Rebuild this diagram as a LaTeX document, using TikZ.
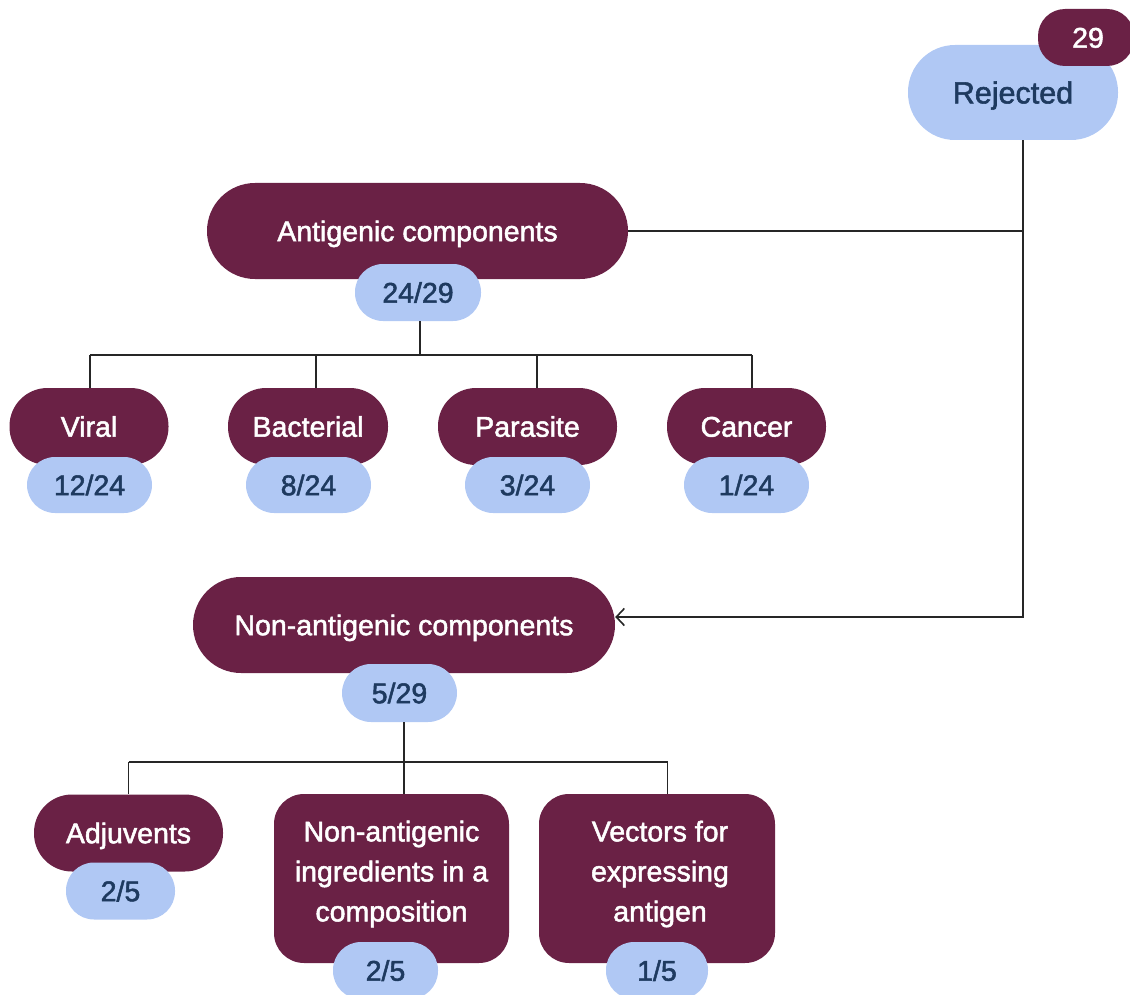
\documentclass[tikz,border=0pt]{standalone}
\usepackage{fontspec}
\setmainfont{Liberation Sans}[FakeBold=1.8]
\usetikzlibrary{arrows.meta}

\definecolor{wine}{HTML}{6A2145}
\definecolor{sky}{HTML}{B0C8F4}
\definecolor{ink}{HTML}{1E3A5F}

\tikzset{
  catbox/.style={fill=wine, draw=none, text=white, inner sep=0pt,
    font=\fontsize{28.5}{40}\selectfont, text height=20.4pt, text depth=0pt},
  countbox/.style={fill=sky, draw=none, text=ink, inner sep=0pt,
    font=\fontsize{28.5}{33}\selectfont, text height=20.4pt, text depth=0pt},
  multiline/.style={catbox, fill=none, align=center, text height=, text depth=},
  conn/.style={draw=black!85, line width=1.8pt},
  flowtip/.style={-{Straight Barb[length=8pt,width=17pt,line width=1.6pt]}}
}

\begin{document}
\begin{tikzpicture}[x=1pt,y=-1pt]
  \useasboundingbox (0,0) rectangle (1130,995);

  % ---------- rejected patents ----------
  \node[countbox, minimum width=210pt, minimum height=95pt, rounded corners=47pt,
        font=\fontsize{30.5}{36}\selectfont, text height=21.8pt] (rej) at (1013,92.5) {Rejected};
  \node[catbox, minimum width=96pt, minimum height=57pt, rounded corners=27pt]
        (total) at (1086,37.5) {\kern4pt29};

  % ---------- antigenic branch ----------
  \node[catbox, minimum width=421pt, minimum height=96pt, rounded corners=48pt]
        (ant) at (417.5,231) {Antigenic components};
  \node[countbox, minimum width=126pt, minimum height=57pt, rounded corners=28pt]
        (antN) at (418,292.5) {24/29};

  \node[catbox, minimum width=159pt, minimum height=77pt, rounded corners=38pt]
        (viral) at (89,426.5) {Viral};
  \node[countbox, minimum width=125pt, minimum height=56pt, rounded corners=28pt]
        (viralN) at (89.5,485) {12/24};

  \node[catbox, minimum width=160pt, minimum height=77pt, rounded corners=38pt]
        (bact) at (308,426.5) {Bacterial};
  \node[countbox, minimum width=125pt, minimum height=56pt, rounded corners=28pt]
        (bactN) at (308.5,485) {8/24};

  \node[catbox, minimum width=179pt, minimum height=77pt, rounded corners=38pt]
        (para) at (527.5,426.5) {Parasite};
  \node[countbox, minimum width=125pt, minimum height=56pt, rounded corners=28pt]
        (paraN) at (527.5,485) {3/24};

  \node[catbox, minimum width=159pt, minimum height=77pt, rounded corners=38pt]
        (canc) at (746.5,426.5) {Cancer};
  \node[countbox, minimum width=125pt, minimum height=56pt, rounded corners=28pt]
        (cancN) at (746.5,485) {1/24};

  % ---------- non-antigenic branch ----------
  \node[catbox, minimum width=422pt, minimum height=96pt, rounded corners=48pt]
        (non) at (404,625) {Non-antigenic components};
  \node[countbox, minimum width=115pt, minimum height=58pt, rounded corners=29pt]
        (nonN) at (399.5,693) {5/29};

  \node[catbox, minimum width=189pt, minimum height=77pt, rounded corners=38pt]
        (adj) at (128.5,833) {Adjuvents};
  \node[countbox, minimum width=109pt, minimum height=57pt, rounded corners=28pt]
        (adjN) at (120.5,891) {2/5};

  \node[catbox, minimum width=235pt, minimum height=169pt, rounded corners=30pt]
        (ingr) at (391.5,878.5) {};
  \node[multiline] (ingrT) at (391.5,874)
        {Non-antigenic\\ingredients in a\\composition};
  \node[countbox, minimum width=105pt, minimum height=57pt, rounded corners=28pt]
        (ingrN) at (385.5,970.5) {2/5};

  \node[catbox, minimum width=236pt, minimum height=169pt, rounded corners=30pt]
        (vect) at (657,878.5) {};
  \node[multiline] (vectT) at (660,874)
        {Vectors for\\expressing\\antigen};
  \node[countbox, minimum width=102pt, minimum height=57pt, rounded corners=28pt]
        (vectN) at (657,970.5) {1/5};

  % ---------- connectors ----------
  \coordinate (turn) at (1023,617);
  \draw[conn] (ant.east) -- (ant.east -| turn);
  \draw[conn, flowtip, line join=miter]
        ([xshift=10pt]rej.south) -- (turn) -- ([yshift=8pt]non.east);

  % antigenic sub-classes
  \coordinate (busA) at (0,355);
  \draw[conn] ([xshift=2pt]antN.south) -- ([xshift=2pt]antN.south |- busA);
  \draw[conn] ([xshift=1pt]viral.north |- busA) -- ([xshift=5.5pt]canc.north |- busA);
  \draw[conn] ([xshift=1pt]viral.north |- busA) -- ([xshift=1pt]viral.north);
  \draw[conn] ([xshift=8pt]bact.north |- busA) -- ([xshift=8pt]bact.north);
  \draw[conn] ([xshift=9.5pt]para.north |- busA) -- ([xshift=9.5pt]para.north);
  \draw[conn] ([xshift=5.5pt]canc.north |- busA) -- ([xshift=5.5pt]canc.north);

  % non-antigenic sub-classes
  \coordinate (busB) at (0,762);
  \draw[conn] ([xshift=4.5pt]nonN.south) -- ([xshift=4.5pt]nonN.south |- busB);
  \draw[conn] (adj.north |- busB) -- ([xshift=10.5pt]vect.north |- busB);
  \draw[conn] (adj.north |- busB) -- (adj.north);
  \draw[conn] ([xshift=12.5pt]ingr.north |- busB) -- ([xshift=12.5pt]ingr.north);
  \draw[conn] ([xshift=10.5pt]vect.north |- busB) -- ([xshift=10.5pt]vect.north);
\end{tikzpicture}
\end{document}
